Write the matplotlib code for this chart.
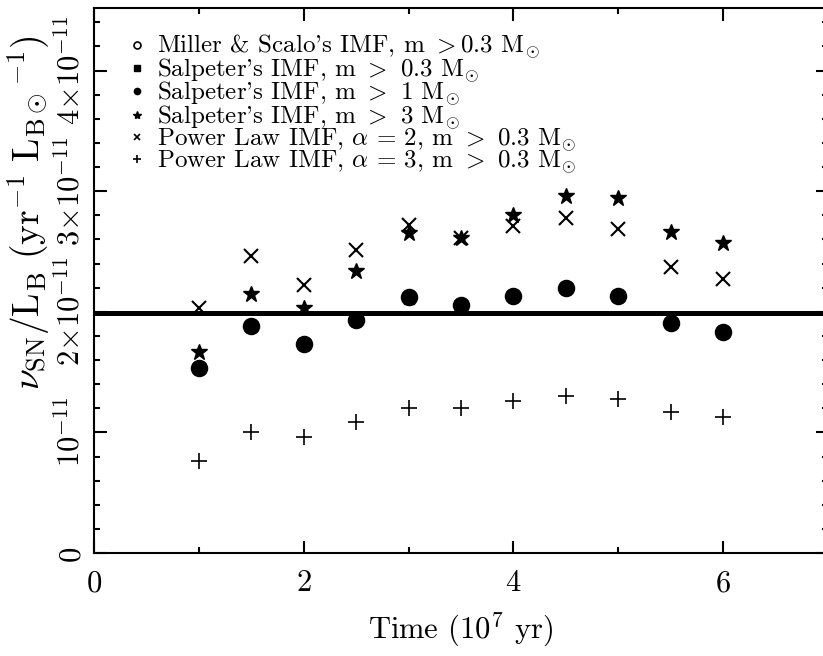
import matplotlib
matplotlib.use("Agg")
import matplotlib.pyplot as plt
from matplotlib.lines import Line2D
from matplotlib.ticker import MultipleLocator

plt.rcParams["font.family"] = "serif"
plt.rcParams["font.serif"] = ["cmr10"]
plt.rcParams["mathtext.fontset"] = "cm"
plt.rcParams["axes.formatter.use_mathtext"] = True
plt.rcParams["axes.unicode_minus"] = False

# time in 10^7 yr
time = [1.0, 1.5, 2.0, 2.5, 3.0, 3.5, 4.0, 4.5, 5.0, 5.5, 6.0]

# rates in units of 1e-11 yr^-1 L_Bsun^-1
miller_scalo = [1.53, 1.88, 1.73, 1.93, 2.12, 2.06, 2.13, 2.20, 2.13, 1.91, 1.83]
salp_03 = [1.53, 1.88, 1.73, 1.93, 2.11, 2.05, 2.13, 2.20, 2.13, 1.91, 1.83]
salp_1 = [1.53, 1.88, 1.73, 1.93, 2.12, 2.06, 2.13, 2.20, 2.13, 1.91, 1.83]
salp_3 = [1.67, 2.15, 2.03, 2.34, 2.65, 2.61, 2.80, 2.96, 2.94, 2.66, 2.57]
power_a2 = [2.03, 2.46, 2.22, 2.51, 2.72, 2.61, 2.71, 2.78, 2.69, 2.37, 2.27]
power_a3 = [0.76, 1.00, 0.96, 1.09, 1.20, 1.20, 1.26, 1.30, 1.28, 1.17, 1.13]

observed = 1.99

labels = [
    r"Miller & Scalo's IMF, m $>$0.3 $\mathrm{M}_{\!\odot}$",
    r"Salpeter's IMF, m $>$ 0.3 $\mathrm{M}_{\!\odot}$",
    r"Salpeter's IMF, m $>$ 1 $\mathrm{M}_{\!\odot}$",
    r"Salpeter's IMF, m $>$ 3 $\mathrm{M}_{\!\odot}$",
    r"Power Law IMF, $\alpha$ = 2, m $>$ 0.3 $\mathrm{M}_{\!\odot}$",
    r"Power Law IMF, $\alpha$ = 3, m $>$ 0.3 $\mathrm{M}_{\!\odot}$",
]

yticks = [0, 1, 2, 3, 4]
yticklabels = ["0", r"$10^{-11}$", r"$2{\times}10^{-11}$",
               r"$3{\times}10^{-11}$", r"$4{\times}10^{-11}$"]
xticks = [0, 2, 4, 6]

fig = plt.figure(figsize=(8.23, 6.56), dpi=100)
ax = fig.add_axes([0.1142, 0.157, 0.892, 0.831])

ax.axhline(observed, color="black", lw=3.6, zorder=1)

ax.plot(time, salp_1, "o", color="black", ms=10.5, zorder=3)
ax.plot(time, salp_03, "s", color="black", ms=7, zorder=3)
ax.plot(time, miller_scalo, "o", mfc="none", mec="black", mew=1.6, ms=11, zorder=4)
ax.plot(time, salp_3, "*", color="black", ms=12, zorder=3)
ax.plot(time, power_a2, "x", color="black", ms=9.5, mew=1.5, zorder=3)
ax.plot(time, power_a3, "+", color="black", ms=11.5, mew=1.2, zorder=3)

handles = [
    Line2D([], [], ls="none", marker="o", mfc="none", mec="black", mew=1.2, ms=5),
    Line2D([], [], ls="none", marker="s", color="black", ms=4),
    Line2D([], [], ls="none", marker="o", color="black", ms=4.5),
    Line2D([], [], ls="none", marker="*", color="black", ms=6),
    Line2D([], [], ls="none", marker="x", color="black", mew=1.2, ms=4.5),
    Line2D([], [], ls="none", marker="+", color="black", mew=1.2, ms=5.5),
]
ax.legend(handles, labels, loc="upper left", bbox_to_anchor=(0.035, 0.972),
          frameon=False, fontsize=18, handlelength=0.6, handletextpad=0.5,
          labelspacing=-0.2, borderaxespad=0)

ax.set_xlim(0, 7)
ax.set_ylim(0, 4.52)
ax.set_xticks(xticks)
ax.xaxis.set_minor_locator(MultipleLocator(1))
ax.set_yticks(yticks)
ax.set_yticklabels(yticklabels, rotation=90, va="center")
ax.yaxis.set_minor_locator(MultipleLocator(0.2))

ax.tick_params(which="both", direction="in", top=True, right=True, width=1.5)
ax.tick_params(which="major", length=9, labelsize=22)
ax.tick_params(axis="x", which="major", pad=12)
ax.tick_params(axis="y", which="major", pad=6)
ax.tick_params(which="minor", length=4.5)
for s in ax.spines.values():
    s.set_linewidth(1.5)

ax.set_xlabel(r"Time (10$^7$ yr)", fontsize=22, labelpad=10)
ax.set_ylabel(r"$\nu_{\rm SN}/{\rm L_B}\ ({\rm yr}^{-1}\ {\rm L}_{{\rm B}\odot}{}^{-1})$",
              fontsize=27)
ax.yaxis.set_label_coords(-0.057, 0.625)

fig.savefig("out.png", dpi=100)
